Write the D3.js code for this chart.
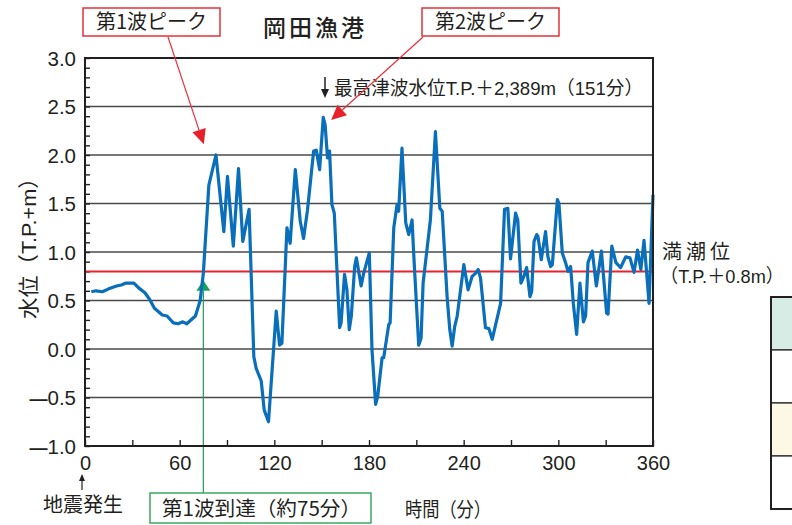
<!DOCTYPE html>
<html><head><meta charset="utf-8">
<script src="https://cdn.jsdelivr.net/npm/d3@7"></script>
<style>body{margin:0;background:#fff} svg{display:block}</style>
</head><body><svg id="c" width="792" height="525"></svg>
<script>
// ---- data ----
const minutes = [4,7,11,15,20,23,26,31,34,38,41,44,49,52,56,59,62,64.5,70,73,75,78.5,83,88,90.3,94,97.3,100,104,107,108.5,111.7,113.6,116.3,121.2,123.3,124.8,128,130,133.3,136.4,138.5,141,144.9,146.6,148.7,151,152.2,153.7,155,156.5,158,161.4,162.3,164.5,166,167.5,168.8,170.9,172,175,176.6,180.2,181.9,184.2,185.5,188.3,189.3,192.5,193.4,195.7,197.8,198.8,200.9,203.3,205.2,207.3,208.3,211.5,213,214.3,218.9,222.1,224.9,226.4,229.5,231.2,232.7,234.3,235.9,240.1,242.8,245.4,247.5,249.2,250.7,253.8,256,258.1,263.4,265.9,268,269.7,272.9,274.3,276.3,278.2,279.9,282,283.1,284.6,286.3,287.1,289.2,291.9,293.4,295.1,296.2,299.4,300.4,302.5,304.6,306.1,307.8,309.5,311.6,313.7,315.9,317.3,318.8,321.5,324.1,327.3,330.6,331.5,333.9,336.5,339.5,342.7,345.4,348,350.2,352.3,354.3,355.8,357.5,360];
const waterLevel = [0.59,0.60,0.59,0.62,0.65,0.66,0.68,0.68,0.63,0.58,0.51,0.42,0.35,0.34,0.27,0.26,0.28,0.26,0.34,0.50,0.78,1.69,2.00,1.21,1.78,1.06,1.86,1.11,1.44,-0.08,-0.20,-0.33,-0.63,-0.75,0.39,0.04,0.06,1.25,1.09,1.85,1.32,1.14,1.43,2.04,2.05,1.85,2.389,2.31,1.97,2.04,1.49,1.40,0.22,0.27,0.77,0.61,0.20,0.34,0.85,0.94,0.65,0.78,0.99,-0.01,-0.57,-0.49,-0.09,-0.09,0.25,0.27,1.25,1.49,1.42,2.07,1.30,1.18,1.33,0.99,0.04,0.11,0.68,1.33,2.24,1.45,1.42,0.54,0.20,0.03,0.23,0.34,0.87,0.61,0.75,0.78,0.82,0.73,0.22,0.21,0.10,0.47,1.44,1.45,0.93,1.40,1.33,0.68,0.75,0.84,0.54,0.59,1.11,1.18,1.16,0.92,1.21,0.95,0.85,0.87,1.54,1.50,0.99,0.89,0.80,0.85,0.47,0.15,0.68,0.28,0.34,0.89,1.01,0.65,1.01,0.37,0.36,1.06,0.89,0.84,0.95,0.94,0.79,1.02,0.82,1.12,0.82,0.47,1.59];
const yTickValues = [-1,-0.5,0,0.5,1,1.5,2,2.5,3];
const yTickLabels = ["1.0","0.5","0.0","0.5","1.0","1.5","2.0","2.5","3.0"];
const yGridValues = [-0.5,0,0.5,1,1.5,2,2.5];
const xTickValues = [0,60,120,180,240,300,360];
const xMinorTicks = [0,30,60,90,120,150,180,210,240,270,300,330,360];
const highTide = 0.8;
const firstArrival = 75;
const peak1 = {t:75.3, v:2.11};
const peak2 = {t:156, v:2.36};
const titleText = "岡田漁港";
const yLabel = "水位（T.P.+m）";
const xLabel = "時間（分）";
const maxText = "最高津波水位T.P.＋2,389m（151分）";

// ---- drawing ----
const JP = "'Noto Sans CJK JP', sans-serif";
const NUM = "'Liberation Sans', Arial, 'Noto Sans CJK JP', sans-serif";
const INK = "#231f20";
const svg = d3.select("#c");
const x = d3.scaleLinear().domain([0,360]).range([85,653]);
const y = d3.scaleLinear().domain([-1,3]).range([446,58]);

// gridlines
svg.append("g").selectAll("line").data(yGridValues).join("line")
  .attr("x1", x(0)).attr("x2", x(360))
  .attr("y1", d=>y(d)).attr("y2", d=>y(d))
  .attr("stroke","#4a4a4a").attr("stroke-width",1.3);

// minor ticks y (inward)
const yMinor = svg.append("g").attr("transform",`translate(${x(0)},0)`)
  .call(d3.axisRight(y).tickValues(d3.range(-10,31).map(d=>d/10)).tickSize(5).tickFormat(""));
yMinor.select(".domain").remove();
yMinor.selectAll("line").attr("stroke","#222").attr("stroke-width",1.4);

// x ticks (inward)
const xMinor = svg.append("g").attr("transform",`translate(0,${y(-1)})`)
  .call(d3.axisTop(x).tickValues(xMinorTicks).tickSize(6).tickFormat(""));
xMinor.select(".domain").remove();
xMinor.selectAll("line").attr("stroke","#222").attr("stroke-width",1.4);

// high tide line
svg.append("line").attr("x1",x(0)+1).attr("x2",x(360))
  .attr("y1",y(highTide)).attr("y2",y(highTide))
  .attr("stroke","#e8232b").attr("stroke-width",2);

// first arrival green line + triangle
const gx = x(firstArrival);
svg.append("line").attr("x1",gx).attr("x2",gx).attr("y1",y(0.6)).attr("y2",493)
  .attr("stroke","#1f9b55").attr("stroke-width",1.2);
svg.append("path").attr("d",`M${gx},${y(0.71)} L${gx-7},${y(0.6)} L${gx+7},${y(0.6)} Z`)
  .attr("fill","#1aa35a");

// the water level line
const pts = minutes.map((m,i)=>[m, waterLevel[i]]);
svg.append("path").datum(pts)
  .attr("d", d3.line().x(d=>x(d[0])).y(d=>y(d[1])))
  .attr("fill","none").attr("stroke","#0a6fba").attr("stroke-width",3.2)
  .attr("stroke-linejoin","round");

// frame
svg.append("rect").attr("x",x(0)).attr("y",y(3)).attr("width",x(360)-x(0)).attr("height",y(-1)-y(3))
  .attr("fill","none").attr("stroke","#231f20").attr("stroke-width",2);

// y labels
const yAx = svg.append("g").attr("transform",`translate(${x(0)},0)`)
  .call(d3.axisLeft(y).tickValues(yTickValues).tickSize(0).tickPadding(9)
    .tickFormat((d,i)=>yTickLabels[i]));
yAx.select(".domain").remove();
yAx.selectAll("text").attr("font-family",NUM).attr("font-size",20.5).attr("fill",INK).attr("dy","0.36em")
  .each(function(d){ if(d<0){ d3.select(this).text(null);
      d3.select(this).append("tspan").attr("font-size",18).attr("font-weight","bold").text("—");
      d3.select(this).append("tspan").text(yTickLabels[yTickValues.indexOf(d)]); }});

// x labels
const xAx = svg.append("g").attr("transform",`translate(0,${y(-1)})`)
  .call(d3.axisBottom(x).tickValues(xTickValues).tickSize(0).tickPadding(10));
xAx.select(".domain").remove();
xAx.selectAll("text").attr("font-family",NUM).attr("font-size",20).attr("fill",INK);

// title
svg.append("text").attr("x",315).attr("y",36).attr("text-anchor","middle")
  .attr("font-family",JP).attr("font-size",23).attr("font-weight",500).attr("letter-spacing",3)
  .attr("fill",INK).text(titleText);

// y axis title
svg.append("text").attr("transform","translate(36,243) rotate(-90)").attr("text-anchor","middle")
  .attr("font-family",NUM).attr("font-size",21).attr("fill",INK)
  .attr("textLength",152).attr("lengthAdjust","spacingAndGlyphs").text(yLabel);

// x axis title
svg.append("text").attr("x",405).attr("y",517).attr("font-family",JP).attr("font-size",20)
  .attr("fill",INK).attr("textLength",86).attr("lengthAdjust","spacingAndGlyphs").text(xLabel);

// earthquake marker
svg.append("line").attr("x1",x(0)-3).attr("x2",x(0)-3).attr("y1",477).attr("y2",490)
  .attr("stroke",INK).attr("stroke-width",1.2);
svg.append("path").attr("d",`M${x(0)-3},474 L${x(0)-6},481 L${x(0)},481 Z`).attr("fill",INK);
svg.append("text").attr("x",83).attr("y",512).attr("text-anchor","middle")
  .attr("font-family",JP).attr("font-size",20).attr("fill",INK).text("地震発生");

// max annotation: arrow + text
const mx = 325;
svg.append("line").attr("x1",mx).attr("x2",mx).attr("y1",77).attr("y2",92)
  .attr("stroke",INK).attr("stroke-width",1.5);
svg.append("path").attr("d",`M${mx},98 L${mx-4},89 L${mx+4},89 Z`).attr("fill",INK);
svg.append("text").attr("x",334).attr("y",95).attr("font-family",NUM).attr("font-size",19)
  .attr("fill",INK).attr("textLength",309).attr("lengthAdjust","spacingAndGlyphs").text(maxText);

// high tide label
svg.append("text").attr("x",662).attr("y",259).attr("font-family",JP).attr("font-size",20)
  .attr("letter-spacing",4).attr("fill",INK).text("満潮位");
svg.append("text").attr("x",660).attr("y",283).attr("font-family",NUM).attr("font-size",19)
  .attr("fill",INK).attr("textLength",124).attr("lengthAdjust","spacingAndGlyphs").text("（T.P.＋0.8m）");

// red peak boxes & arrows
function peakBox(bx, label, ax, tip){
  svg.append("rect").attr("x",bx).attr("y",8).attr("width",137).attr("height",28)
    .attr("fill","#fff").attr("stroke","#e8303a").attr("stroke-width",1.5);
  svg.append("text").attr("x",bx+68.5).attr("y",29).attr("text-anchor","middle")
    .attr("font-family",JP).attr("font-size",20).attr("fill",INK).text(label);
  const tx = x(tip.t), ty = y(tip.v);
  const dx = tx-ax, dy = ty-37, L = Math.hypot(dx,dy), ux=dx/L, uy=dy/L;
  const hl=15, hw=7;
  const bxp = tx-ux*hl, byp = ty-uy*hl;
  svg.append("line").attr("x1",ax).attr("y1",37).attr("x2",bxp).attr("y2",byp)
    .attr("stroke","#e8303a").attr("stroke-width",1.2);
  svg.append("path").attr("d",`M${tx},${ty} L${bxp-uy*hw},${byp+ux*hw} L${bxp+uy*hw},${byp-ux*hw} Z`)
    .attr("fill","#e8202a");
}
peakBox(83, "第1波ピーク", 168, peak1);
peakBox(422, "第2波ピーク", 423, peak2);

// first arrival box
svg.append("rect").attr("x",150).attr("y",493).attr("width",221).attr("height",30)
  .attr("fill","#fff").attr("stroke","#3aa860").attr("stroke-width",1.5);
svg.append("text").attr("x",162).attr("y",516).attr("font-family",JP).attr("font-size",20)
  .attr("fill",INK).attr("textLength",199).attr("lengthAdjust","spacingAndGlyphs").text("第1波到達（約75分）");

// partial table at right edge
const rows = [{y:297,h:53,f:"#d6ece5"},{y:350,h:53,f:"#ffffff"},{y:403,h:53,f:"#fdf8e3"},{y:456,h:53,f:"#ffffff"}];
svg.append("g").selectAll("rect").data(rows).join("rect")
  .attr("x",771).attr("y",d=>d.y).attr("width",30).attr("height",d=>d.h)
  .attr("fill",d=>d.f).attr("stroke","#231f20").attr("stroke-width",1.2);
svg.append("rect").attr("x",771).attr("y",297).attr("width",30).attr("height",212)
  .attr("fill","none").attr("stroke","#231f20").attr("stroke-width",2);
</script></body></html>
